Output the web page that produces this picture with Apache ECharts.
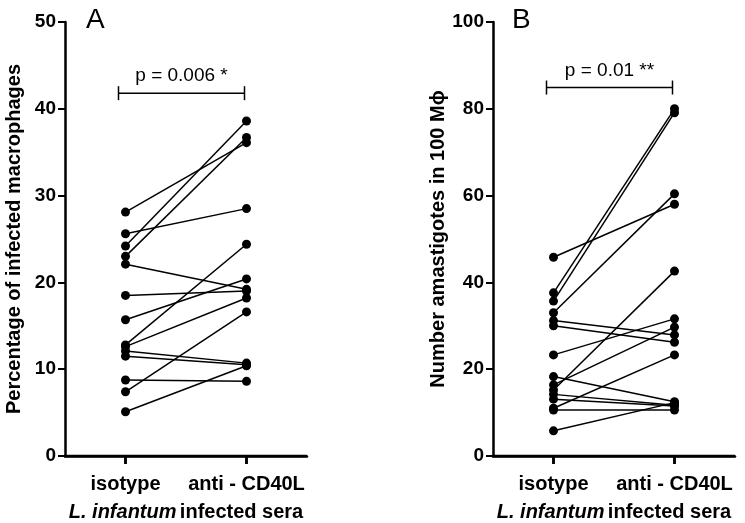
<!DOCTYPE html>
<html>
<head>
<meta charset="utf-8">
<script src="https://cdn.jsdelivr.net/npm/echarts@6/dist/echarts.min.js"></script>
<style>
html,body{margin:0;padding:0;background:#fff;}
#c{width:745px;height:523px;}
</style>
</head>
<body>
<div id="c"></div>
<script>
const categories = ['isotype', 'anti - CD40L'];
// Panel A: percentage of infected macrophages (paired)
const isoA  = [28.1, 25.6, 24.2, 23.0, 22.1, 18.5, 15.7, 12.8, 12.6, 12.1, 11.5, 8.75, 7.4, 5.1];
const antiA = [36.1, 28.5, 38.6, 36.7, 19.2, 19.0, 20.4, 24.4, 18.2, 10.7, 10.5, 8.6, 16.6, 10.4];
// Panel B: number amastigotes in 100 Mphi (paired)
const isoB  = [45.8, 37.6, 35.7, 33.0, 31.2, 30.0, 23.3, 18.3, 16.4, 15.2, 14.2, 13.1, 11.0, 10.6, 5.8];
const antiB = [58.0, 80.0, 79.1, 60.4, 27.9, 26.2, 31.6, 12.5, 29.7, 42.6, 11.7, 11.5, 23.3, 10.6, 12.3];
const pA = {y: 41.8, text: 'p = 0.006 *'};
const pB = {y: 84.9, text: 'p = 0.01 **'};
const yTitleA = 'Percentage of infected macrophages';
const yTitleB = 'Number amastigotes in 100 M\u03D5';

const FONT = 'Liberation Sans, Arial, sans-serif';
const catIdx = categories.map((c, i) => i);
const chart = echarts.init(document.getElementById('c'), null, {renderer: 'canvas'});

function xAxisCfg(gi) {
  return {
    type: 'value', gridIndex: gi, min: -0.5, max: categories.length - 0.5,
    position: 'bottom',
    splitLine: {show: false},
    axisLine: {show: true, onZero: false, lineStyle: {color: '#000', width: 2.5}},
    axisTick: {show: true, customValues: catIdx, length: 8, lineStyle: {color: '#000', width: 2.5}},
    axisLabel: {show: true, customValues: catIdx, formatter: v => categories[Math.round(v)],
                color: '#000', fontWeight: 'bold', fontSize: 20, fontFamily: FONT, margin: 18},
    name: '{i|L. infantum} {n|infected sera}',
    nameLocation: 'middle', nameGap: 46,
    nameTextStyle: {
      rich: {
        i: {fontStyle: 'italic', fontWeight: 'bold', fontSize: 20, fontFamily: FONT, color: '#000'},
        n: {fontWeight: 'bold', fontSize: 20, fontFamily: FONT, color: '#000'}
      }
    }
  };
}
function yAxisCfg(gi, max, interval, title, gap) {
  return {
    type: 'value', gridIndex: gi, min: 0, max: max, interval: interval,
    position: 'left',
    splitLine: {show: false},
    axisLine: {show: true, onZero: false, lineStyle: {color: '#000', width: 2.5}},
    axisTick: {show: true, length: 7, lineStyle: {color: '#000', width: 2}},
    axisLabel: {color: '#000', fontWeight: 'bold', fontSize: 19, fontFamily: FONT, margin: 9},
    name: title, nameLocation: 'middle', nameGap: gap, nameRotate: 90,
    nameTextStyle: {color: '#000', fontWeight: 'bold', fontSize: 20, fontFamily: FONT}
  };
}

const series = [];
function addPairs(iso, anti, idx) {
  for (let i = 0; i < iso.length; i++) {
    series.push({
      type: 'line', xAxisIndex: idx, yAxisIndex: idx,
      data: [[0, iso[i]], [1, anti[i]]],
      symbol: 'circle', symbolSize: 9, showSymbol: true,
      lineStyle: {color: '#000', width: 1.5},
      itemStyle: {color: '#000'},
      emphasis: {disabled: true},
      animation: false, z: 3
    });
  }
}
addPairs(isoA, antiA, 0);
addPairs(isoB, antiB, 1);

// x-axis baseline and category ticks, drawn through the axis scales
function xBase(idx) {
  return {
    type: 'custom', xAxisIndex: idx, yAxisIndex: idx,
    data: [[0]], animation: false, silent: true, z: 10, clip: false,
    renderItem: function (params, api) {
      const l = api.coord([-0.5, 0]);
      const r = api.coord([categories.length - 0.5, 0]);
      const st = {stroke: '#000', lineWidth: 2.5};
      const children = [{type: 'line', shape: {x1: l[0] - 1, y1: l[1], x2: r[0], y2: r[1]}, style: st}];
      catIdx.forEach(function (ci) {
        const p = api.coord([ci, 0]);
        children.push({type: 'line', shape: {x1: p[0], y1: p[1], x2: p[0], y2: p[1] + 8}, style: st});
      });
      return {type: 'group', children: children};
    }
  };
}
series.push(xBase(0));
series.push(xBase(1));

function bracket(idx, p) {
  return {
    type: 'custom', xAxisIndex: idx, yAxisIndex: idx,
    data: [[0, 1, p.y]], animation: false, silent: true,
    renderItem: function (params, api) {
      const a = api.coord([api.value(0), api.value(2)]);
      const b = api.coord([api.value(1), api.value(2)]);
      const x0 = a[0] - 7, x1 = b[0] - 2, y = a[1];
      const st = {stroke: '#000', lineWidth: 1.5};
      return {
        type: 'group',
        children: [
          {type: 'line', shape: {x1: x0, y1: y, x2: x1, y2: y}, style: st},
          {type: 'line', shape: {x1: x0, y1: y - 7, x2: x0, y2: y + 7}, style: st},
          {type: 'line', shape: {x1: x1, y1: y - 7, x2: x1, y2: y + 7}, style: st},
          {type: 'text', x: (x0 + x1) / 2, y: y - 17,
           style: {text: p.text, fill: '#000', font: '19px ' + FONT, align: 'center', verticalAlign: 'middle'}}
        ]
      };
    }
  };
}
series.push(bracket(0, pA));
series.push(bracket(1, pB));

chart.setOption({
  backgroundColor: '#fff',
  animation: false,
  title: [
    {text: 'A', left: 81, top: 1, textStyle: {fontSize: 28, fontWeight: 'normal', fontFamily: FONT, color: '#000'}},
    {text: 'B', left: 507, top: 1, textStyle: {fontSize: 28, fontWeight: 'normal', fontFamily: FONT, color: '#000'}}
  ],
  grid: [
    {left: 65, right: 438, top: 22, bottom: 67, outerBoundsContain: 'axisLabel',
     outerBounds: {left: -300, right: -300, top: -300, bottom: -300}},
    {left: 493, right: 10, top: 22, bottom: 67, outerBoundsContain: 'axisLabel',
     outerBounds: {left: -300, right: -300, top: -300, bottom: -300}}
  ],
  xAxis: [xAxisCfg(0), xAxisCfg(1)],
  yAxis: [yAxisCfg(0, 50, 10, yTitleA, 41), yAxisCfg(1, 100, 20, yTitleB, 41)],
  series: series
});
</script>
</body>
</html>
